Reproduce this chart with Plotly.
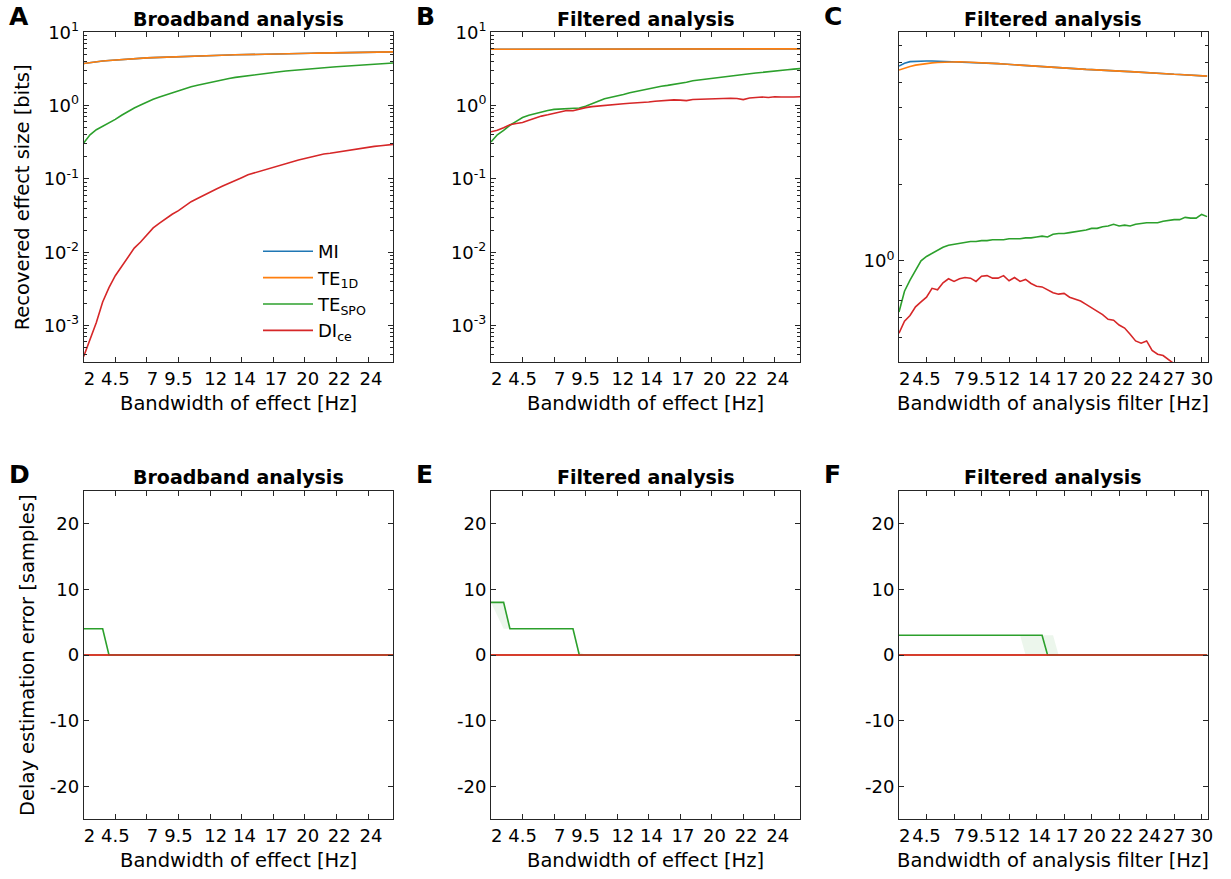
import plotly.graph_objects as go

# ---------------- data ----------------
freq_effect = [2, 2.5, 3, 3.5, 4, 4.5, 5, 5.5, 6, 6.5, 7, 7.5, 8, 8.5, 9, 9.5, 10, 10.5, 11, 11.5,
               12, 12.5, 13, 13.5, 14, 14.5, 15, 15.5, 16, 16.5, 17, 17.5, 18, 18.5, 19, 19.5,
               20, 20.5, 21, 21.5, 22, 22.5, 23, 23.5, 24, 24.5, 25, 25.5, 26, 26.5]
freq_filter = [2, 2.5, 3, 3.5, 4, 4.5, 5, 5.5, 6, 6.5, 7, 7.5, 8, 8.5, 9, 9.5, 10, 10.5, 11, 11.5,
               12, 12.5, 13, 13.5, 14, 14.5, 15, 15.5, 16, 16.5, 17, 17.5, 18, 18.5, 19, 19.5,
               20, 20.5, 21, 21.5, 22, 22.5, 23, 23.5, 24, 24.5, 25, 25.5, 26, 26.5, 27, 27.5,
               28, 28.5, 29, 29.5, 30]

series_names = ["MI", "TE<sub>1D</sub>", "TE<sub>SPO</sub>", "DI<sub>ce</sub>"]

# Panel A: broadband analysis, recovered effect size [bits]
a_mi = [3.75, 3.87, 3.97, 4.06, 4.13, 4.20, 4.26, 4.32, 4.38, 4.43,
        4.48, 4.52, 4.56, 4.60, 4.64, 4.67, 4.70, 4.73, 4.76, 4.79,
        4.82, 4.85, 4.88, 4.91, 4.93, 4.96, 4.98, 5.00, 5.02, 5.04,
        5.06, 5.08, 5.10, 5.12, 5.14, 5.16, 5.18, 5.20, 5.22, 5.24,
        5.25, 5.27, 5.29, 5.30, 5.32, 5.34, 5.35, 5.37, 5.38, 5.40]
a_te1d = [3.75, 3.87, 3.97, 4.06, 4.13, 4.20, 4.26, 4.32, 4.38, 4.43,
          4.48, 4.52, 4.56, 4.60, 4.64, 4.67, 4.70, 4.73, 4.76, 4.79,
          4.82, 4.85, 4.88, 4.91, 4.93, 4.96, 4.98, 5.00, 5.02, 5.04,
          5.06, 5.08, 5.10, 5.12, 5.14, 5.16, 5.18, 5.20, 5.22, 5.24,
          5.25, 5.27, 5.29, 5.30, 5.32, 5.34, 5.35, 5.37, 5.38, 5.40]
a_tespo = [0.31, 0.40, 0.47, 0.52, 0.58, 0.65, 0.74, 0.84, 0.93, 1.02,
           1.12, 1.22, 1.31, 1.40, 1.50, 1.62, 1.72, 1.81, 1.90, 1.99,
           2.08, 2.17, 2.26, 2.35, 2.43, 2.50, 2.56, 2.63, 2.70, 2.77,
           2.84, 2.90, 2.96, 3.02, 3.07, 3.12, 3.18, 3.23, 3.28, 3.34,
           3.39, 3.44, 3.49, 3.54, 3.58, 3.63, 3.67, 3.72, 3.77, 3.82]
a_di = [0.00038, 0.00065, 0.0011, 0.0021, 0.0033, 0.0048, 0.0064, 0.0085, 0.0114, 0.0138,
        0.0175, 0.0215, 0.025, 0.029, 0.033, 0.037, 0.043, 0.049, 0.054, 0.060,
        0.066, 0.073, 0.080, 0.088, 0.096, 0.104, 0.114, 0.121, 0.128, 0.136,
        0.146, 0.155, 0.163, 0.172, 0.181, 0.190, 0.200, 0.210, 0.219, 0.224,
        0.231, 0.240, 0.250, 0.258, 0.264, 0.271, 0.278, 0.284, 0.290, 0.296]

# Panel B: filtered analysis, recovered effect size [bits]
b_mi = [5.87, 5.87, 5.88, 5.88, 5.88, 5.89, 5.89, 5.89, 5.89, 5.90,
        5.90, 5.90, 5.90, 5.91, 5.91, 5.91, 5.91, 5.91, 5.92, 5.92,
        5.92, 5.92, 5.92, 5.92, 5.93, 5.93, 5.93, 5.93, 5.93, 5.93,
        5.93, 5.94, 5.94, 5.94, 5.94, 5.94, 5.94, 5.94, 5.94, 5.94,
        5.95, 5.95, 5.95, 5.95, 5.95, 5.95, 5.95, 5.95, 5.95, 5.95]
b_te1d = [5.87, 5.87, 5.88, 5.88, 5.88, 5.89, 5.89, 5.89, 5.89, 5.90,
          5.90, 5.90, 5.90, 5.91, 5.91, 5.91, 5.91, 5.91, 5.92, 5.92,
          5.92, 5.92, 5.92, 5.92, 5.93, 5.93, 5.93, 5.93, 5.93, 5.93,
          5.93, 5.94, 5.94, 5.94, 5.94, 5.94, 5.94, 5.94, 5.94, 5.94,
          5.95, 5.95, 5.95, 5.95, 5.95, 5.95, 5.95, 5.95, 5.95, 5.95]
b_tespo = [0.32, 0.40, 0.46, 0.54, 0.61, 0.69, 0.74, 0.78, 0.82, 0.86,
           0.89, 0.90, 0.91, 0.92, 0.93, 0.98, 1.05, 1.15, 1.24, 1.29,
           1.35, 1.42, 1.50, 1.57, 1.63, 1.69, 1.76, 1.84, 1.89, 1.94,
           2.00, 2.08, 2.18, 2.24, 2.30, 2.36, 2.42, 2.48, 2.54, 2.60,
           2.66, 2.72, 2.78, 2.85, 2.90, 2.97, 3.03, 3.09, 3.15, 3.20]
b_di = [0.44, 0.46, 0.50, 0.55, 0.57, 0.59, 0.63, 0.68, 0.72, 0.75,
        0.79, 0.82, 0.86, 0.85, 0.90, 0.94, 0.97, 0.99, 1.02, 1.04,
        1.04, 1.06, 1.08, 1.09, 1.10, 1.12, 1.15, 1.17, 1.18, 1.20,
        1.19, 1.17, 1.21, 1.22, 1.21, 1.23, 1.24, 1.25, 1.26, 1.25,
        1.21, 1.27, 1.30, 1.31, 1.29, 1.32, 1.31, 1.30, 1.31, 1.32]

# Panel C: filtered analysis vs. analysis filter bandwidth
c_mi = [5.80, 5.95, 6.04, 6.06, 6.07, 6.07, 6.07, 6.06, 6.05, 6.04,
        6.03, 6.03, 6.02, 6.01, 6.00, 5.98, 5.96, 5.95, 5.93, 5.91,
        5.89, 5.86, 5.83, 5.81, 5.80, 5.78, 5.76, 5.75, 5.73, 5.71,
        5.70, 5.68, 5.66, 5.65, 5.63, 5.62, 5.60, 5.59, 5.57, 5.56,
        5.54, 5.53, 5.52, 5.50, 5.49, 5.47, 5.46, 5.44, 5.43, 5.41,
        5.39, 5.38, 5.36, 5.34, 5.33, 5.31, 5.30]
c_te1d = [5.60, 5.70, 5.78, 5.85, 5.90, 5.94, 5.97, 5.99, 6.01, 6.02,
          6.03, 6.03, 6.02, 6.01, 6.00, 5.98, 5.96, 5.95, 5.93, 5.91,
          5.89, 5.86, 5.83, 5.81, 5.80, 5.78, 5.76, 5.75, 5.73, 5.71,
          5.70, 5.68, 5.66, 5.65, 5.63, 5.62, 5.60, 5.59, 5.57, 5.56,
          5.54, 5.53, 5.52, 5.50, 5.49, 5.47, 5.46, 5.44, 5.43, 5.41,
          5.39, 5.38, 5.36, 5.34, 5.33, 5.31, 5.30]
c_tespo = [0.63, 0.76, 0.84, 0.92, 1.00, 1.04, 1.07, 1.10, 1.13, 1.15,
           1.16, 1.17, 1.18, 1.19, 1.19, 1.20, 1.20, 1.21, 1.21, 1.21,
           1.22, 1.22, 1.22, 1.23, 1.23, 1.24, 1.25, 1.24, 1.27, 1.28,
           1.28, 1.29, 1.30, 1.31, 1.32, 1.34, 1.34, 1.36, 1.37, 1.39,
           1.37, 1.38, 1.37, 1.39, 1.40, 1.41, 1.41, 1.41, 1.43, 1.44,
           1.45, 1.45, 1.48, 1.47, 1.47, 1.52, 1.49]
c_di = [0.52, 0.58, 0.61, 0.66, 0.69, 0.72, 0.78, 0.77, 0.82, 0.85,
        0.83, 0.85, 0.86, 0.855, 0.83, 0.87, 0.875, 0.855, 0.855, 0.875,
        0.835, 0.86, 0.83, 0.845, 0.815, 0.795, 0.79, 0.77, 0.75, 0.74,
        0.745, 0.72, 0.705, 0.695, 0.675, 0.655, 0.635, 0.615, 0.59, 0.585,
        0.56, 0.545, 0.515, 0.485, 0.475, 0.485, 0.445, 0.43, 0.425, 0.41,
        0.395, 0.38, 0.36, 0.345, 0.33, 0.315, 0.30]

# Panels D-F: delay estimation error [samples]
d_mi = [0, 0, 0, 0, 0, 0, 0, 0, 0, 0, 0, 0, 0, 0, 0, 0, 0, 0, 0, 0, 0, 0, 0, 0, 0,
        0, 0, 0, 0, 0, 0, 0, 0, 0, 0, 0, 0, 0, 0, 0, 0, 0, 0, 0, 0, 0, 0, 0, 0, 0]
d_te1d = [0, 0, 0, 0, 0, 0, 0, 0, 0, 0, 0, 0, 0, 0, 0, 0, 0, 0, 0, 0, 0, 0, 0, 0, 0,
          0, 0, 0, 0, 0, 0, 0, 0, 0, 0, 0, 0, 0, 0, 0, 0, 0, 0, 0, 0, 0, 0, 0, 0, 0]
d_tespo = [4, 4, 4, 4, 0, 0, 0, 0, 0, 0, 0, 0, 0, 0, 0, 0, 0, 0, 0, 0, 0, 0, 0, 0, 0,
           0, 0, 0, 0, 0, 0, 0, 0, 0, 0, 0, 0, 0, 0, 0, 0, 0, 0, 0, 0, 0, 0, 0, 0, 0]
d_di = [0, 0, 0, 0, 0, 0, 0, 0, 0, 0, 0, 0, 0, 0, 0, 0, 0, 0, 0, 0, 0, 0, 0, 0, 0,
        0, 0, 0, 0, 0, 0, 0, 0, 0, 0, 0, 0, 0, 0, 0, 0, 0, 0, 0, 0, 0, 0, 0, 0, 0]

e_mi = [0, 0, 0, 0, 0, 0, 0, 0, 0, 0, 0, 0, 0, 0, 0, 0, 0, 0, 0, 0, 0, 0, 0, 0, 0,
        0, 0, 0, 0, 0, 0, 0, 0, 0, 0, 0, 0, 0, 0, 0, 0, 0, 0, 0, 0, 0, 0, 0, 0, 0]
e_te1d = [0, 0, 0, 0, 0, 0, 0, 0, 0, 0, 0, 0, 0, 0, 0, 0, 0, 0, 0, 0, 0, 0, 0, 0, 0,
          0, 0, 0, 0, 0, 0, 0, 0, 0, 0, 0, 0, 0, 0, 0, 0, 0, 0, 0, 0, 0, 0, 0, 0, 0]
e_tespo = [8, 8, 8, 4, 4, 4, 4, 4, 4, 4, 4, 4, 4, 4, 0, 0, 0, 0, 0, 0, 0, 0, 0, 0, 0,
           0, 0, 0, 0, 0, 0, 0, 0, 0, 0, 0, 0, 0, 0, 0, 0, 0, 0, 0, 0, 0, 0, 0, 0, 0]
e_tespo_lo = [8, 6, 4, 4, 4, 4, 4, 4, 4, 4, 4, 4, 4, 4, 0, 0, 0, 0, 0, 0, 0, 0, 0, 0, 0,
              0, 0, 0, 0, 0, 0, 0, 0, 0, 0, 0, 0, 0, 0, 0, 0, 0, 0, 0, 0, 0, 0, 0, 0, 0]
e_tespo_hi = [8, 8, 8, 4, 4, 4, 4, 4, 4, 4, 4, 4, 4, 4, 0.5, 0, 0, 0, 0, 0, 0, 0, 0, 0, 0,
              0, 0, 0, 0, 0, 0, 0, 0, 0, 0, 0, 0, 0, 0, 0, 0, 0, 0, 0, 0, 0, 0, 0, 0, 0]
e_di = [0, 0, 0, 0, 0, 0, 0, 0, 0, 0, 0, 0, 0, 0, 0, 0, 0, 0, 0, 0, 0, 0, 0, 0, 0,
        0, 0, 0, 0, 0, 0, 0, 0, 0, 0, 0, 0, 0, 0, 0, 0, 0, 0, 0, 0, 0, 0, 0, 0, 0]

f_mi = [0, 0, 0, 0, 0, 0, 0, 0, 0, 0, 0, 0, 0, 0, 0, 0, 0, 0, 0, 0, 0, 0, 0, 0, 0, 0, 0, 0,
        0, 0, 0, 0, 0, 0, 0, 0, 0, 0, 0, 0, 0, 0, 0, 0, 0, 0, 0, 0, 0, 0, 0, 0, 0, 0, 0, 0, 0]
f_te1d = [0, 0, 0, 0, 0, 0, 0, 0, 0, 0, 0, 0, 0, 0, 0, 0, 0, 0, 0, 0, 0, 0, 0, 0, 0, 0, 0, 0,
          0, 0, 0, 0, 0, 0, 0, 0, 0, 0, 0, 0, 0, 0, 0, 0, 0, 0, 0, 0, 0, 0, 0, 0, 0, 0, 0, 0, 0]
f_tespo = [3, 3, 3, 3, 3, 3, 3, 3, 3, 3, 3, 3, 3, 3, 3, 3, 3, 3, 3, 3, 3, 3, 3, 3, 3, 3, 3,
           0, 0, 0, 0, 0, 0, 0, 0, 0, 0, 0, 0, 0, 0, 0, 0, 0, 0, 0, 0, 0, 0, 0, 0, 0, 0, 0, 0, 0, 0]
f_tespo_lo = [3, 3, 3, 3, 3, 3, 3, 3, 3, 3, 3, 3, 3, 3, 3, 3, 3, 3, 3, 3, 3, 3, 3,
              0, 0, 0, 0, 0, 0, 0, 0, 0, 0, 0, 0, 0, 0, 0, 0, 0, 0, 0, 0, 0, 0, 0, 0, 0, 0, 0, 0, 0, 0, 0, 0, 0, 0]
f_tespo_hi = [3, 3, 3, 3, 3, 3, 3, 3, 3, 3, 3, 3, 3, 3, 3, 3, 3, 3, 3, 3, 3, 3, 3, 3, 3, 3, 3, 3, 3,
              0, 0, 0, 0, 0, 0, 0, 0, 0, 0, 0, 0, 0, 0, 0, 0, 0, 0, 0, 0, 0, 0, 0, 0, 0, 0, 0, 0]
f_di = [0, 0, 0, 0, 0, 0, 0, 0, 0, 0, 0, 0, 0, 0, 0, 0, 0, 0, 0, 0, 0, 0, 0, 0, 0, 0, 0, 0,
        0, 0, 0, 0, 0, 0, 0, 0, 0, 0, 0, 0, 0, 0, 0, 0, 0, 0, 0, 0, 0, 0, 0, 0, 0, 0, 0, 0, 0]

# tick values / labels
x_tickvals_effect = [2, 4.5, 7, 9.5, 12, 14.5, 17, 19.5, 22, 24.5]
x_ticktext_effect = ["2", "4.5", "7", "9.5", "12", "14", "17", "20", "22", "24"]
x_tickvals_filter = [2, 4.5, 7, 9.5, 12, 14.5, 17, 19.5, 22, 24.5, 27, 29.5]
x_ticktext_filter = ["2", "4.5", "7", "9.5", "12", "14", "17", "20", "22", "24", "27", "30"]
y_tickvals_log = [0.001, 0.01, 0.1, 1, 10]
y_ticktext_log = ["10<sup>-3</sup>", "10<sup>-2</sup>", "10<sup>-1</sup>", "10<sup>0</sup>", "10<sup>1</sup>"]
y_minor_log = [0.0004, 0.0005, 0.0006, 0.0007, 0.0008, 0.0009,
               0.002, 0.003, 0.004, 0.005, 0.006, 0.007, 0.008, 0.009,
               0.02, 0.03, 0.04, 0.05, 0.06, 0.07, 0.08, 0.09,
               0.2, 0.3, 0.4, 0.5, 0.6, 0.7, 0.8, 0.9,
               2, 3, 4, 5, 6, 7, 8, 9]
y_tickvals_c = [1]
y_ticktext_c = ["10<sup>0</sup>"]
y_minor_c = [0.4, 0.5, 0.6, 0.7, 0.8, 0.9, 2, 3, 4, 5, 6, 7]
y_tickvals_delay = [-20, -10, 0, 10, 20]
y_ticktext_delay = ["-20", "-10", "0", "10", "20"]

panel_titles = ["Broadband analysis", "Filtered analysis", "Filtered analysis",
                "Broadband analysis", "Filtered analysis", "Filtered analysis"]
panel_letters = ["A", "B", "C", "D", "E", "F"]
x_titles = ["Bandwidth of effect [Hz]", "Bandwidth of effect [Hz]", "Bandwidth of analysis filter [Hz]",
            "Bandwidth of effect [Hz]", "Bandwidth of effect [Hz]", "Bandwidth of analysis filter [Hz]"]
y_title_top = "Recovered effect size [bits]"
y_title_bottom = "Delay estimation error [samples]"

# ---------------- styling ----------------
W, H = 1231, 879
FONT = "DejaVu Sans"
AXC = "#262626"
COLORS = ["#1f77b4", "#ff7f0e", "#2ca02c", "#d62728"]
LW = 1.6


def px(x):
    return x / W


def py(y):
    return 1 - y / H


cols_px = [(83.7, 393.3), (491.0, 800.0), (899.0, 1207.7)]
rows_px = [(32.3, 362.3), (490.7, 819.3)]

# padding that mimics the right-justified MATLAB tick strings
pad_effect = {"2": "\u00a0\u00a0", "7": "\u00a0\u00a0", "12": "\u00a0\u00a0", "14": "\u00a0",
              "17": "\u00a0", "20": "\u00a0", "22": "\u00a0", "24": "\u00a0"}
pad_filter = {"2": "\u00a0\u00a0", "7": "\u00a0\u00a0", "14": "\u00a0", "17": "\u00a0",
              "20": "\u00a0", "22": "\u00a0", "24": "\u00a0"}


def padded(labels, pad):
    return [pad.get(t, "") + t for t in labels]


fig = go.Figure()

panels = [
    (freq_effect, [a_mi, a_te1d, a_tespo, a_di]),
    (freq_effect, [b_mi, b_te1d, b_tespo, b_di]),
    (freq_filter, [c_mi, c_te1d, c_tespo, c_di]),
    (freq_effect, [d_mi, d_te1d, d_tespo, d_di]),
    (freq_effect, [e_mi, e_te1d, e_tespo, e_di]),
    (freq_filter, [f_mi, f_te1d, f_tespo, f_di]),
]
bands = {4: (e_tespo_lo, e_tespo_hi), 5: (f_tespo_lo, f_tespo_hi)}

for i, (xs, ys) in enumerate(panels):
    xa = "x" if i == 0 else f"x{i+1}"
    ya = "y" if i == 0 else f"y{i+1}"
    if i in bands:
        lo, hi = bands[i]
        fig.add_trace(go.Scatter(x=xs, y=lo, mode="lines", line=dict(width=0, color=COLORS[2]),
                                 showlegend=False, hoverinfo="skip", xaxis=xa, yaxis=ya))
        fig.add_trace(go.Scatter(x=xs, y=hi, mode="lines", line=dict(width=0, color=COLORS[2]),
                                 fill="tonexty", fillcolor="rgba(44,160,44,0.09)",
                                 showlegend=False, hoverinfo="skip", xaxis=xa, yaxis=ya))
    for k, yv in enumerate(ys):
        fig.add_trace(go.Scatter(x=xs, y=yv, mode="lines", name=series_names[k],
                                 line=dict(color=COLORS[k], width=LW),
                                 showlegend=(i == 0), xaxis=xa, yaxis=ya))

layout = dict(
    width=W, height=H, autosize=False,
    margin=dict(l=0, r=0, t=0, b=0, pad=0),
    paper_bgcolor="white", plot_bgcolor="white",
    font=dict(family=FONT, size=18, color="black"),
    legend=dict(x=px(258), y=py(233), xanchor="left", yanchor="top", traceorder="normal",
                bgcolor="rgba(0,0,0,0)", font=dict(family=FONT, size=18, color="black"),
                itemwidth=50, tracegroupgap=0),
)

common_axis = dict(showline=True, linecolor=AXC, linewidth=1, mirror="ticks",
                   ticks="inside", ticklen=5, tickcolor=AXC, tickwidth=1,
                   showgrid=False, zeroline=False, automargin=False,
                   tickfont=dict(family=FONT, size=18, color="black"))

for i in range(6):
    r, c = divmod(i, 3)
    x0, x1 = cols_px[c]
    y0, y1 = rows_px[r]
    xk = "xaxis" if i == 0 else f"xaxis{i+1}"
    yk = "yaxis" if i == 0 else f"yaxis{i+1}"
    xanchor = "y" if i == 0 else f"y{i+1}"
    yanchor = "x" if i == 0 else f"x{i+1}"
    if c == 2:
        xr = [2, 30.05]
        tv, tt = x_tickvals_filter, padded(x_ticktext_filter, pad_filter)
    else:
        xr = [2, 26.5]
        tv, tt = x_tickvals_effect, padded(x_ticktext_effect, pad_effect)
    layout[xk] = dict(common_axis, domain=[px(x0), px(x1)], anchor=xanchor, range=xr,
                      tickmode="array", tickvals=tv, ticktext=tt, tickangle=0)
    if r == 0 and c < 2:
        yax = dict(type="log", range=[-3.5, 1], tickmode="array",
                   tickvals=y_tickvals_log, ticktext=y_ticktext_log,
                   minor=dict(tickmode="array", tickvals=y_minor_log, ticks="inside",
                              ticklen=3, tickcolor=AXC, showgrid=False))
    elif r == 0:
        yax = dict(type="log", range=[-0.398, 0.896], tickmode="array",
                   tickvals=y_tickvals_c, ticktext=y_ticktext_c,
                   minor=dict(tickmode="array", tickvals=y_minor_c, ticks="inside",
                              ticklen=3, tickcolor=AXC, showgrid=False))
    else:
        yax = dict(range=[-25, 25], tickmode="array",
                   tickvals=y_tickvals_delay, ticktext=y_ticktext_delay)
    layout[yk] = dict(common_axis, domain=[py(y1), py(y0)], anchor=yanchor, **yax)

fig.update_layout(**layout)

# ---------------- text annotations ----------------
ann = []
for i in range(6):
    r, c = divmod(i, 3)
    x0, x1 = cols_px[c]
    y0, y1 = rows_px[r]
    xc = (x0 + x1) / 2
    ann.append(dict(text="<b>" + panel_titles[i] + "</b>", x=px(xc), y=py(y0 - 13.3),
                    xref="paper", yref="paper", xanchor="center", yanchor="middle",
                    showarrow=False, font=dict(family=FONT, size=19, color="black")))
    ann.append(dict(text="<b>" + panel_letters[i] + "</b>", x=px(cols_px[c][0] - 77), y=py(y0 - 16),
                    xref="paper", yref="paper", xanchor="left", yanchor="middle",
                    showarrow=False, font=dict(family=FONT, size=25, color="black")))
    ann.append(dict(text=x_titles[i], x=px(xc), y=py(y1 + 41),
                    xref="paper", yref="paper", xanchor="center", yanchor="middle",
                    showarrow=False, font=dict(family=FONT, size=19.5, color="black")))

ann.append(dict(text=y_title_top, x=px(22), y=py(sum(rows_px[0]) / 2), textangle=-90,
                xref="paper", yref="paper", xanchor="center", yanchor="middle",
                showarrow=False, font=dict(family=FONT, size=19.5, color="black")))
ann.append(dict(text=y_title_bottom, x=px(27), y=py(sum(rows_px[1]) / 2), textangle=-90,
                xref="paper", yref="paper", xanchor="center", yanchor="middle",
                showarrow=False, font=dict(family=FONT, size=19.5, color="black")))
fig.update_layout(annotations=ann)

fig.write_html("out.html")
